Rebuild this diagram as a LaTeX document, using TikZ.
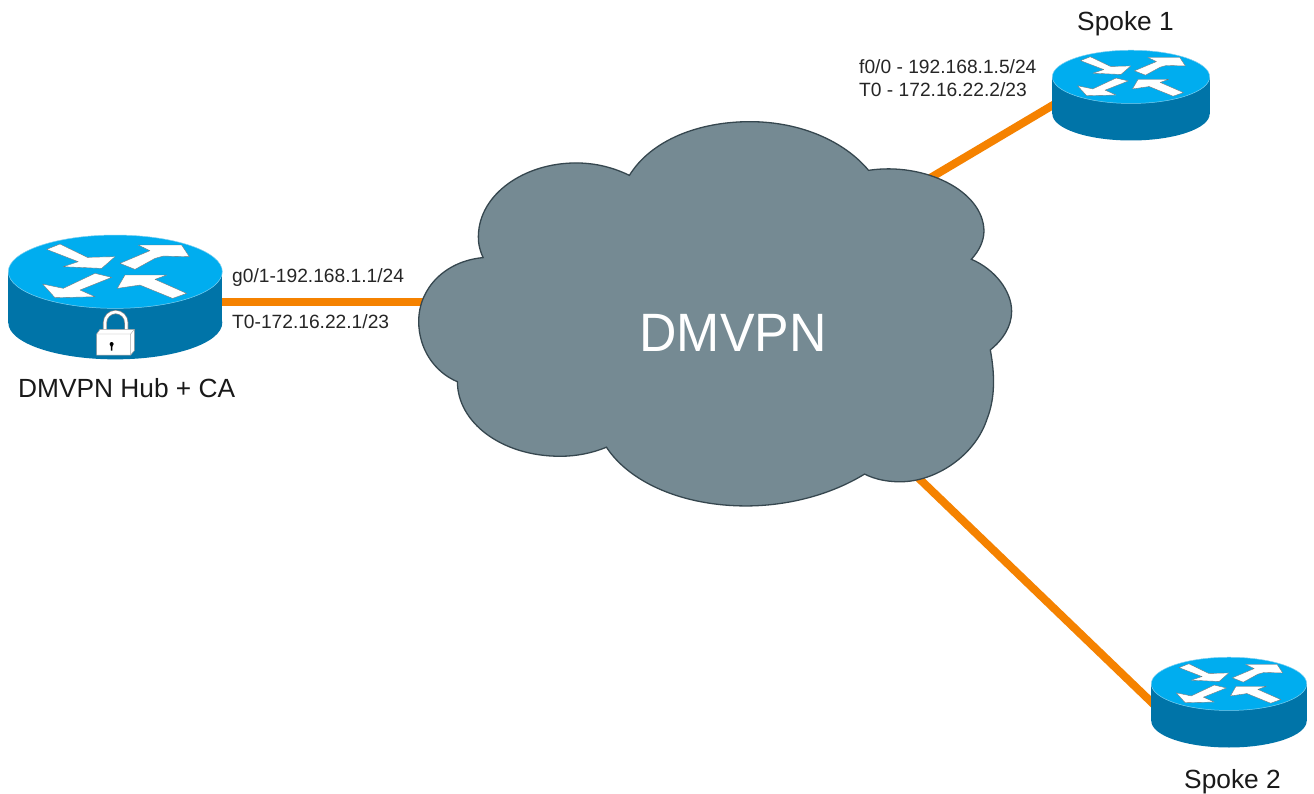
\documentclass[tikz,border=0pt]{standalone}
\usepackage{fontspec}
\setmainfont{Liberation Sans}
\definecolor{rtop}{HTML}{00ADEF}
\definecolor{rside}{HTML}{0074A8}
\definecolor{redge}{HTML}{7FD0F0}
\definecolor{cloudfill}{HTML}{758A93}
\definecolor{cloudedge}{HTML}{36474F}
\definecolor{linkorange}{HTML}{F58200}
\tikzset{
  link/.style={draw=linkorange,line width=8pt},
  small/.style={font=\fontsize{19.2}{22}\selectfont,inner sep=0pt,anchor=base west,text=black!85},
  big/.style={font=\fontsize{26.3}{30}\selectfont,inner sep=0pt,anchor=base west,text=black!90},
  arrowpoly/.style={fill=white,draw=black!55,line width=0.35pt,line join=round},
}
% router drawn in 3x-crop units, y downward, anchored at (346,200)
\newcommand{\routerbody}{%
  \fill[rside] (346,278) ellipse[x radius=321,y radius=110];
  \fill[rside] (25,125) rectangle (667,278);
  \fill[rtop,draw=redge,line width=0.5pt] (346,125) ellipse[x radius=321,y radius=110];
  \fill[arrowpoly] (140,58) -- (180,42) -- (262,82) -- (345,80) -- (305,115) -- (190,110) -- (235,95) -- cycle;
  \fill[arrowpoly] (360,100) -- (450,62) -- (415,45) -- (545,45) -- (568,80) -- (490,78) -- (465,85) -- (405,118) -- cycle;
  \fill[arrowpoly] (335,142) -- (285,130) -- (190,175) -- (128,162) -- (165,203) -- (285,200) -- (240,180) -- cycle;
  \fill[arrowpoly] (375,135) -- (500,135) -- (465,148) -- (560,190) -- (518,205) -- (420,165) -- (352,175) -- cycle;
}
\begin{document}
\begin{tikzpicture}[x=1pt,y=-1pt]
\useasboundingbox (0,0) rectangle (1314,794);
\fill[white] (0,0) rectangle (1314,794);
\coordinate (hub) at (200,302);
\coordinate (spokeone) at (1075,92);
\coordinate (spoketwo) at (1170,720);
\coordinate (cw) at (440,302);
\coordinate (cne) at (915,187);
\coordinate (cse) at (905,465);
\draw[link] (hub) -- (cw);
\draw[link] (spokeone) -- (cne);
\draw[link] (spoketwo) -- (cse);
% cloud
\begin{scope}[shift={(410,120)},x=0.3953pt,y=-0.3356pt]
\draw[fill=cloudfill,draw=cloudedge,line width=1.3pt,line join=miter]
 (555,165) .. controls (610,60) and (730,5) .. (860,5)
 .. controls (990,5) and (1100,65) .. (1160,150)
 .. controls (1300,125) and (1450,210) .. (1452,330)
 .. controls (1452,360) and (1440,390) .. (1420,415)
 .. controls (1480,445) and (1522,510) .. (1522,570)
 .. controls (1522,615) and (1500,655) .. (1468,685)
 .. controls (1480,760) and (1480,830) .. (1460,890)
 .. controls (1430,1000) and (1330,1078) .. (1240,1078)
 .. controls (1205,1078) and (1175,1070) .. (1150,1055)
 .. controls (1060,1120) and (950,1150) .. (850,1150)
 .. controls (690,1150) and (555,1080) .. (497,975)
 .. controls (460,993) and (420,1002) .. (380,1002)
 .. controls (230,1002) and (120,900) .. (120,780)
 .. controls (60,750) and (22,680) .. (22,600)
 .. controls (22,500) and (90,420) .. (185,410)
 .. controls (175,385) and (172,360) .. (173,345)
 .. controls (175,220) and (290,128) .. (420,128)
 .. controls (470,128) and (515,142) .. (555,165) -- cycle;
\end{scope}
\node[font=\fontsize{54}{60}\selectfont,text=white,inner sep=0pt,anchor=base] (cloudlabel) at (733,351) {\scalebox{.96}[1]{DMVPN}};
% hub router with lock
\begin{scope}[shift={(115.3,296.7)},x=0.3333pt,y=-0.3333pt,shift={(-346,-200)}]
  \routerbody
  \draw[black!45,line width=4pt] (315,302) -- (315,278) arc[start angle=180,end angle=360,x radius=32,y radius=32] -- (379,302);
  \draw[white,line width=2.6pt] (315,302) -- (315,278) arc[start angle=180,end angle=360,x radius=32,y radius=32] -- (379,302);
  \fill[white,draw=black!40,line width=0.5pt] (290,312) -- (300,298) -- (403,298) -- (403,362) -- (392,375) -- (290,375) -- cycle;
  \draw[black!35,line width=0.4pt] (290,312) -- (392,312) -- (403,298) (392,312) -- (392,375);
  \fill[black] (335,342) circle[radius=6];
  \fill[black] (332,342) -- (338,342) -- (337,362) -- (333,362) -- cycle;
\end{scope}
% spokes
\begin{scope}[shift={(1131,95)},x=0.2450pt,y=-0.2420pt,shift={(-346,-200)}]
  \routerbody
\end{scope}
\begin{scope}[shift={(1229,702)},x=0.2420pt,y=-0.2420pt,shift={(-346,-200)}]
  \routerbody
\end{scope}
% labels
\node[small] (hubaddr) at (232,283) {g0/1-192.168.1.1/24};
\node[small] (hubtun) at (232,328) {T0-172.16.22.1/23};
\node[big] (hubname) at (18,397) {DMVPN Hub + CA};
\node[big] (onename) at (1077,31) {Spoke 1};
\node[small] (oneaddr) at (859,74) {f0/0 - 192.168.1.5/24};
\node[small] (onetun) at (859,97) {T0 - 172.16.22.2/23};
\node[big] (twoname) at (1184,788) {Spoke 2};
\end{tikzpicture}
\end{document}
